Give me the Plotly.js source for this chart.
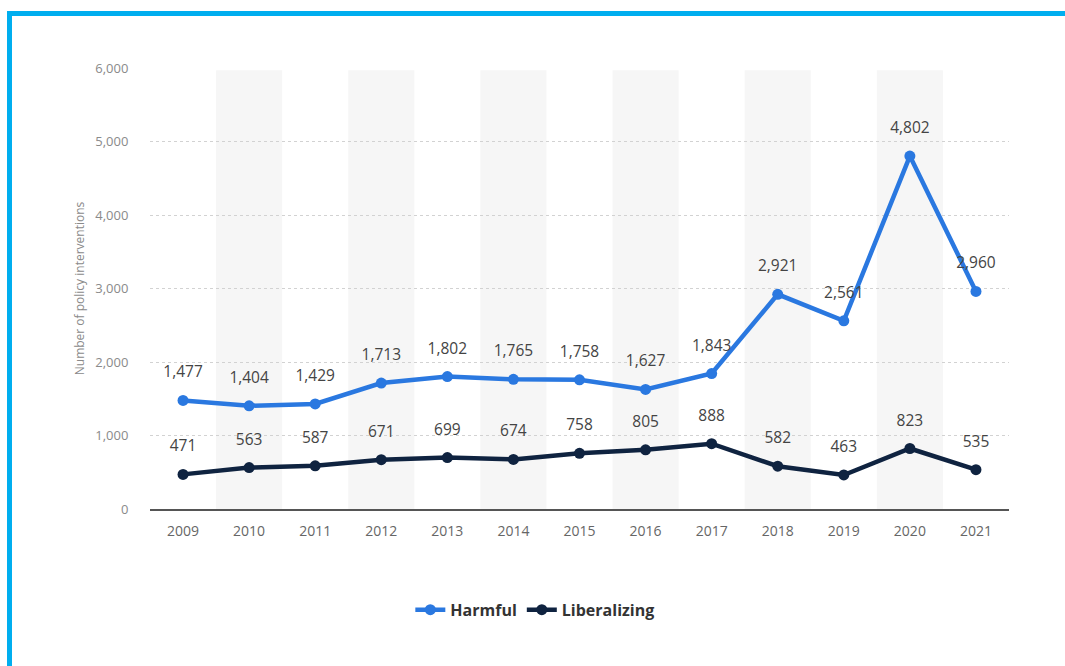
<!DOCTYPE html>
<html>
<head>
<meta charset="utf-8">
<script src="https://cdn.plot.ly/plotly-3.0.1.min.js"></script>
<style>
html,body{margin:0;padding:0;background:#fff;}
#wrap{position:relative;width:1065px;height:666px;overflow:hidden;}
#chart{position:absolute;left:0;top:0;width:1065px;height:666px;}
#bt{position:absolute;left:7px;top:11px;width:1058px;height:5px;background:#00aeef;}
#bl{position:absolute;left:7px;top:11px;width:5px;height:655px;background:#00aeef;}
</style>
</head>
<body>
<div id="wrap">
<div id="chart"></div>
<div id="bt"></div>
<div id="bl"></div>
</div>
<script>
const years = ["2009","2010","2011","2012","2013","2014","2015","2016","2017","2018","2019","2020","2021"];
const harmful = [1477,1404,1429,1713,1802,1765,1758,1627,1843,2921,2561,4802,2960];
const liberalizing = [471,563,587,671,699,674,758,805,888,582,463,823,535];
const yTicks = [0,1000,2000,3000,4000,5000,6000];
const yTickText = ["0","1,000","2,000","3,000","4,000","5,000","6,000"];

const fmt = v => v.toLocaleString("en-US");
const font = "Open Sans, Noto Sans, sans-serif";
const labelFont = {family: font, size: 15.5, color: "#444"};

function lineTrace(y, name, color) {
  return {x: years, y: y, name: name, type: "scatter", mode: "lines+markers",
    line: {color: color, width: 4.5}, marker: {color: color, size: 11}, cliponaxis: false};
}
function labelTrace(y) {
  return {x: years, y: y, type: "scatter", mode: "markers+text", showlegend: false,
    hoverinfo: "skip", text: y.map(fmt), textposition: "top center", textfont: labelFont,
    marker: {size: 29, color: "rgba(0,0,0,0)"}, cliponaxis: false};
}

const traces = [
  lineTrace(harmful, "Harmful", "#2a78e0"),
  lineTrace(liberalizing, "Liberalizing", "#0f2340"),
  labelTrace(harmful),
  labelTrace(liberalizing)
];

const shapes = [];
years.forEach((yr, i) => {
  if (i % 2 === 1) {
    shapes.push({type: "rect", xref: "x", yref: "y", x0: i - 0.5, x1: i + 0.5, y0: 0, y1: 5970,
      fillcolor: "#f6f6f6", line: {width: 0}, layer: "below"});
  }
});

const layout = {
  width: 1065, height: 666,
  margin: {l: 150, r: 56, t: 68, b: 157},
  paper_bgcolor: "#fff", plot_bgcolor: "rgba(0,0,0,0)",
  font: {family: font},
  showlegend: true,
  legend: {orientation: "h", x: 0.448, xanchor: "center", xref: "paper", y: -0.19, yanchor: "top",
    traceorder: "normal",
    font: {family: font, size: 16, color: "#333", weight: "bold"}},
  xaxis: {type: "category", range: [-0.5, 12.5], showgrid: false, zeroline: false,
    showline: true, linecolor: "#555", linewidth: 2,
    ticks: "outside", ticklen: 8, tickcolor: "rgba(0,0,0,0)",
    tickfont: {family: font, size: 14, color: "#666"}, fixedrange: true},
  yaxis: {range: [0, 6000], tickvals: yTicks, ticktext: yTickText,
    showgrid: true, gridcolor: "#d2d2d2", griddash: "dot", gridwidth: 1, zeroline: false,
    ticks: "outside", ticklen: 18, tickcolor: "rgba(0,0,0,0)",
    tickfont: {family: font, size: 13, color: "#8a8a8a"},
    title: {text: "Number of policy interventions", standoff: 8,
      font: {family: font, size: 12, color: "#8a8a8a"}}, fixedrange: true},
  shapes: shapes
};

Plotly.newPlot("chart", traces, layout, {displayModeBar: false, staticPlot: true});
</script>
</body>
</html>
